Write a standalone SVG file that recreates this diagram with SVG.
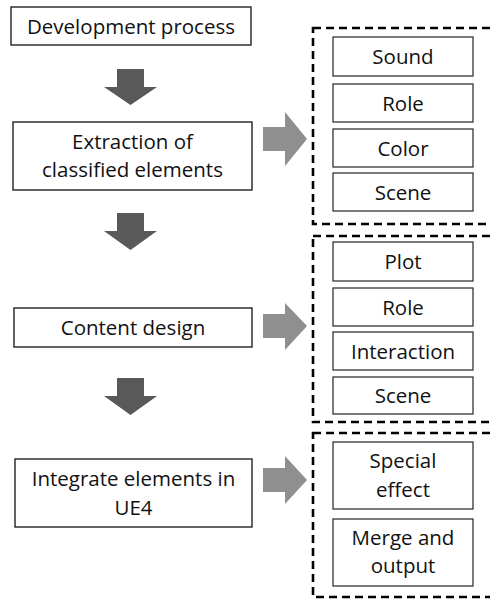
<svg xmlns="http://www.w3.org/2000/svg" width="490" height="601" viewBox="0 0 490 601">
<style>
.box{fill:#fff;stroke:#222;stroke-width:1.4}
.ibox{fill:#fff;stroke:#333;stroke-width:1.3}
.dash{fill:none;stroke:#000;stroke-width:2.6;stroke-dasharray:8 5}
.t{font-family:"Open Sans","Noto Sans",sans-serif;font-size:20.5px;fill:#111;text-anchor:middle}
.down{fill:#595959}
.right{fill:#8f8f8f}
</style>
<rect width="490" height="601" fill="#fff"/>
<g id="group1"><rect class="dash" x="313" y="28" width="190" height="196"/></g>
<g id="group2"><rect class="dash" x="313" y="236" width="190" height="186"/></g>
<g id="group3"><rect class="dash" x="313" y="433" width="190" height="164"/></g>
<g id="dev"><rect class="box" x="11" y="7" width="240" height="38"/><text class="t" x="131" y="33.5">Development process</text></g>
<g id="extract"><rect class="box" x="13" y="122" width="239" height="68"/><text class="t" x="132.5" y="149">Extraction of</text><text class="t" x="132.5" y="177">classified elements</text></g>
<g id="content"><rect class="box" x="14" y="308" width="238" height="39"/><text class="t" x="133" y="335">Content design</text></g>
<g id="integrate"><rect class="box" x="15" y="459" width="237" height="68"/><text class="t" x="133.5" y="486">Integrate elements in</text><text class="t" x="133.5" y="515">UE4</text></g>
<g id="sound"><rect class="ibox" x="333" y="37" width="140" height="39"/><text class="t" x="403" y="64">Sound</text></g>
<g id="role1"><rect class="ibox" x="333" y="84" width="140" height="38"/><text class="t" x="403" y="110.5">Role</text></g>
<g id="color"><rect class="ibox" x="333" y="129" width="140" height="38"/><text class="t" x="403" y="155.5">Color</text></g>
<g id="scene1"><rect class="ibox" x="333" y="173" width="140" height="38"/><text class="t" x="403" y="199.5">Scene</text></g>
<g id="plot"><rect class="ibox" x="333" y="242" width="140" height="39"/><text class="t" x="403" y="269">Plot</text></g>
<g id="role2"><rect class="ibox" x="333" y="288" width="140" height="38"/><text class="t" x="403" y="314.5">Role</text></g>
<g id="interaction"><rect class="ibox" x="333" y="332" width="140" height="38"/><text class="t" x="403" y="358.5">Interaction</text></g>
<g id="scene2"><rect class="ibox" x="333" y="377" width="140" height="37"/><text class="t" x="403" y="403">Scene</text></g>
<g id="special"><rect class="ibox" x="333" y="442" width="140" height="67"/><text class="t" x="403" y="468">Special</text><text class="t" x="403" y="496.5">effect</text></g>
<g id="merge"><rect class="ibox" x="333" y="519" width="140" height="67"/><text class="t" x="403" y="545">Merge and</text><text class="t" x="403" y="573">output</text></g>
<g id="connectors">
<polygon class="down" points="117,69 144,69 144,87 157,87 130.5,105 104,87 117,87"/>
<polygon class="down" points="117,213 144,213 144,231 157,231 130.5,250 104,231 117,231"/>
<polygon class="down" points="117,378 144,378 144,396 157,396 130.5,415 104,396 117,396"/>
<polygon class="right" points="263,127 285,127 285,112 307,139 285,166 285,151 263,151"/>
<polygon class="right" points="263,314 285,314 285,303 307,326 285,350 285,338 263,338"/>
<polygon class="right" points="263,468 285,468 285,456 307,480 285,504 285,492 263,492"/>
</g>
</svg>
